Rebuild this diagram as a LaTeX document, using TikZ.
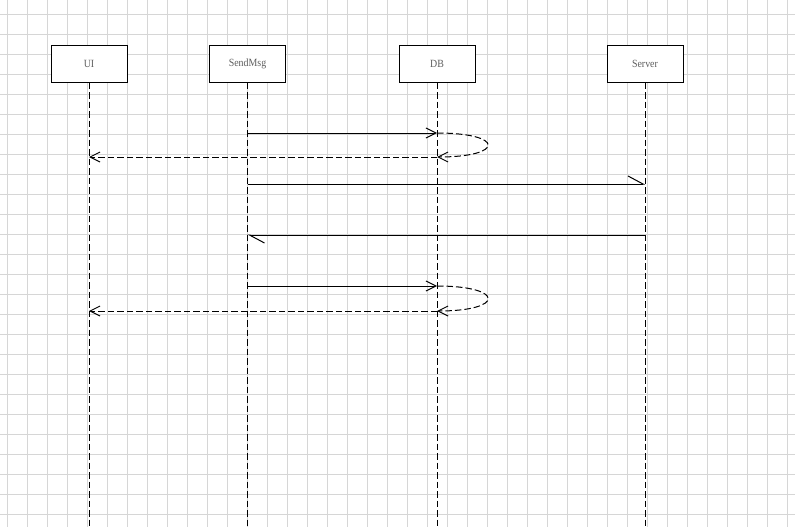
\documentclass[tikz,border=0pt]{standalone}
\usepackage{fontspec}
\setmainfont{Liberation Serif}
\newfontfamily\lblfont[FakeStretch=0.9]{Liberation Serif}
\usetikzlibrary{arrows.meta}
\definecolor{gridgray}{HTML}{D6D6D6}
\definecolor{txtgray}{HTML}{5E5E5E}
\tikzset{
  x=1pt, y=1pt,
  gridline/.style={draw=gridgray, line width=0.8pt},
  actor/.style={draw=black, line width=1pt, fill=white, minimum width=76pt, minimum height=36pt, inner sep=0pt, font=\lblfont\fontsize{11}{13}\selectfont, text=txtgray},
  lifeline/.style={draw=black, line width=1pt, dash pattern=on 6.5pt off 3pt},
  callmsg/.style={draw=black, line width=1pt, -{Straight Barb[length=10pt, width=10pt]}},
  retmsg/.style={draw=black, line width=1pt, dash pattern=on 6.5pt off 3pt, -{Straight Barb[length=10pt, width=10pt]}},
  asyncmsg/.style={draw=black, line width=1pt, -{Straight Barb[left, length=15pt, width=16pt]}},
}
\begin{document}
\begin{tikzpicture}
\useasboundingbox (0,0) rectangle (795,-527);
\fill[white] (0,0) rectangle (795,-527);
\begin{scope}
\clip (0,0) rectangle (795,-527);
\draw[gridline, step=20, shift={(7,-14)}] (-7,-513) grid (788,14);
\end{scope}

% actors
\node[actor] (ui) at (89,-64) {UI};
\node[actor] (send) at (247.5,-64) {SendMsg};
\node[actor] (db) at (437,-64) {DB};
\node[actor] (srv) at (645,-64) {Server};

% lifeline ends
\coordinate (uiE) at (89,-527);
\coordinate (sendE) at (247.5,-527);
\coordinate (dbE) at (437,-527);
\coordinate (srvE) at (645,-527);

\draw[lifeline] (ui.south) -- (uiE);
\draw[lifeline] (send.south) -- (sendE);
\draw[lifeline] (db.south) -- (dbE);
\draw[lifeline] (srv.south) -- (srvE);

% message points
\coordinate (s1) at (247.5,-133);
\coordinate (d1) at (437,-133);
\coordinate (d2) at (437,-157);
\coordinate (u2) at (89,-157);
\coordinate (s3) at (247.5,-184);
\coordinate (v3) at (645,-184);
\coordinate (v4) at (645,-235);
\coordinate (s4) at (247.5,-235);
\coordinate (s5) at (247.5,-286);
\coordinate (d5) at (437,-286);
\coordinate (d6) at (437,-311);
\coordinate (u6) at (89,-311);

% messages
\draw[callmsg] (s1) -- (d1);
\draw[retmsg] (d1) .. controls (505,-133) and (505,-157) .. (d2);
\draw[retmsg] (d2) -- (u2);
\draw[asyncmsg] (s3) -- (v3);
\draw[asyncmsg] (v4) -- (s4);
\draw[callmsg] (s5) -- (d5);
\draw[retmsg] (d5) .. controls (505,-286) and (505,-311) .. (d6);
\draw[retmsg] (d6) -- (u6);
\end{tikzpicture}
\end{document}
